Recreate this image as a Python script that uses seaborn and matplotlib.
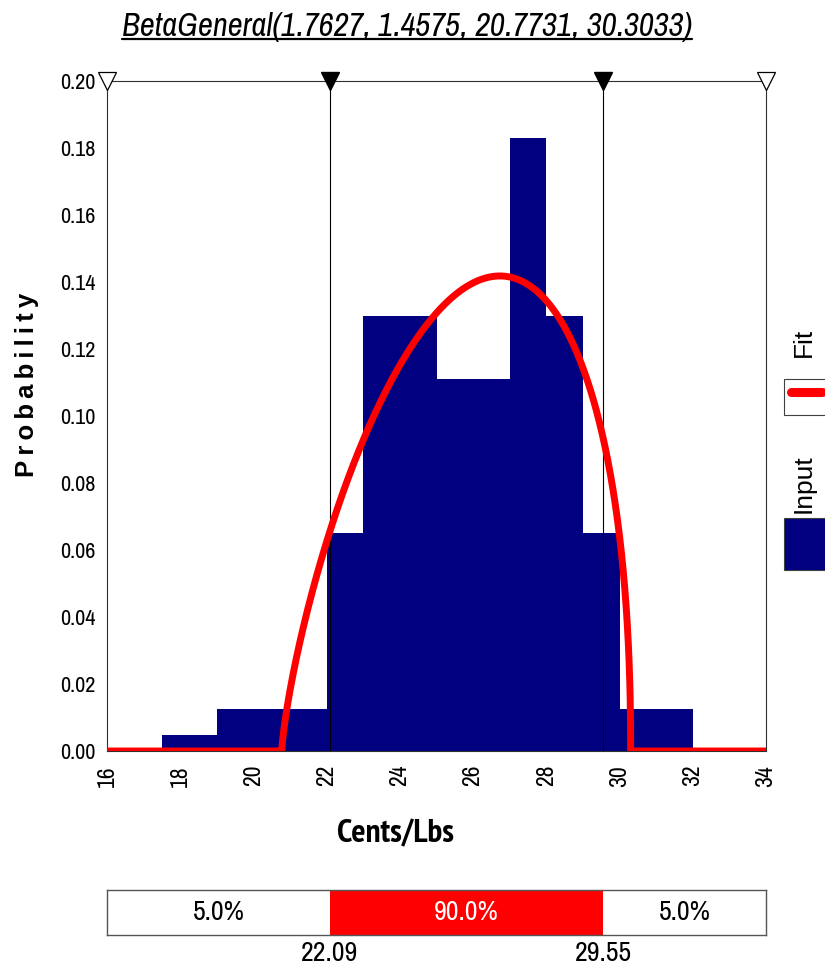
import math
import numpy as np
import pandas as pd
import matplotlib
matplotlib.use("Agg")
import matplotlib.pyplot as plt
import seaborn as sns
from matplotlib.patches import Rectangle
from matplotlib.lines import Line2D

# Input histogram: bin edges and probability density of each bin
bin_edges = [17.5, 19.0, 22.0, 23.0, 25.0, 27.0, 28.0, 29.0, 30.0, 32.0]
bin_heights = [0.0048, 0.0125, 0.065, 0.130, 0.111, 0.183, 0.130, 0.065, 0.0125]

# Fitted distribution BetaGeneral(alpha1, alpha2, min, max)
fit_alpha1 = 1.7627
fit_alpha2 = 1.4575
fit_min = 20.7731
fit_max = 30.3033

# 5% / 95% delimiters and band labels
delimiters = [22.09, 29.55]
band_labels = ["5.0%", "90.0%", "5.0%"]

x_ticks = [16, 18, 20, 22, 24, 26, 28, 30, 32, 34]
y_ticks = [0.00, 0.02, 0.04, 0.06, 0.08, 0.10, 0.12, 0.14, 0.16, 0.18, 0.20]

NAVY = "#000080"
RED = "#ff0000"
NARROW = ["Archivo Narrow", "Liberation Sans", "DejaVu Sans"]
NARROW_BOLD = ["PT Sans Narrow", "Asap Condensed", "Liberation Sans", "DejaVu Sans"]
SANS = ["Liberation Sans", "DejaVu Sans"]


def beta_general_pdf(x, a1, a2, lo, hi):
    z = (x - lo) / (hi - lo)
    out = np.zeros_like(x)
    inside = (z > 0) & (z < 1)
    log_b = math.lgamma(a1) + math.lgamma(a2) - math.lgamma(a1 + a2)
    out[inside] = np.exp((a1 - 1) * np.log(z[inside])
                         + (a2 - 1) * np.log(1 - z[inside]) - log_b) / (hi - lo)
    return out


sns.set_theme(style="white")
plt.rcParams["font.family"] = NARROW
plt.rcParams["text.color"] = "black"
plt.rcParams["xtick.color"] = "black"
plt.rcParams["ytick.color"] = "black"

W, H = 825, 973
fig = plt.figure(figsize=(W / 100, H / 100), dpi=100)

# main axes (pixel box 107..766 x 81..751)
ax = fig.add_axes([107 / W, 1 - 751 / H, 659 / W, 670 / H])

hist_df = pd.DataFrame({
    "mid": [(a + b) / 2 for a, b in zip(bin_edges[:-1], bin_edges[1:])],
    "prob": bin_heights,
})
sns.histplot(data=hist_df, x="mid", weights="prob", bins=bin_edges, stat="count",
             element="step", fill=True, color=NAVY, alpha=1, linewidth=0, ax=ax, zorder=2)

ax.vlines(delimiters, 0, 0.20, color="black", lw=0.8, zorder=3)

grid = np.sort(np.concatenate([np.linspace(16, 34, 1801), [fit_min, fit_max]]))
fit_df = pd.DataFrame({"x": grid, "pdf": beta_general_pdf(grid, fit_alpha1, fit_alpha2, fit_min, fit_max)})
sns.lineplot(data=fit_df, x="x", y="pdf", color=RED, lw=5, ax=ax, zorder=4,
             estimator=None, sort=False)

# end and delimiter triangles on the top edge
ax.plot([16, 34], [0.20, 0.20], ls="none", marker="v", ms=13, mfc="white",
        mec="black", mew=0.9, clip_on=False, zorder=6)
ax.plot(delimiters, [0.20, 0.20], ls="none", marker="v", ms=13, mfc="black",
        mec="black", clip_on=False, zorder=6)

ax.set_xlim(16, 34)
ax.set_ylim(0, 0.20)
ax.set_xticks(x_ticks)
ax.set_xticklabels([str(t) for t in x_ticks], rotation=90, fontsize=17)
ax.set_yticks(y_ticks)
ax.set_yticklabels([f"{t:.2f}" for t in y_ticks], fontsize=16)
ax.tick_params(axis="y", direction="inout", length=17, width=0.8, pad=0)
ax.tick_params(axis="x", direction="out", length=7, width=0.8, pad=3)
ax.set_xlabel("")
ax.set_ylabel("")
for s in ax.spines.values():
    s.set_color("#303030")
    s.set_linewidth(0.8)

# titles and axis labels
title = fig.text(407 / W, 1 - 27 / H, "BetaGeneral(1.7627, 1.4575, 20.7731, 30.3033)",
                 ha="center", va="center", fontsize=23.5, style="italic")
fig.text(395 / W, 1 - 834 / H, "Cents/Lbs", ha="center", va="center",
         fontsize=24, fontweight="bold", family=NARROW_BOLD)
fig.text(27 / W, 1 - 385 / H, "\u2009".join("Probability"), ha="center", va="center",
         rotation=90, fontsize=18.5, fontweight="bold", family=SANS)

# legend on the right edge
fig.text(804 / W, 1 - 342 / H, "Fit", rotation=90, ha="center", va="center",
         fontsize=19, family=SANS)
fig.patches.append(Rectangle((784 / W, 1 - 415 / H), 50 / W, 36 / H, transform=fig.transFigure,
                             facecolor="white", edgecolor="#404040", lw=0.8))
fig.lines.append(Line2D([791 / W, 822 / W], [1 - 392 / H, 1 - 392 / H], transform=fig.transFigure,
                        color=RED, lw=6.5, solid_capstyle="round"))
fig.text(804 / W, 1 - 484 / H, "Input", rotation=90, ha="center", va="center",
         fontsize=19, family=SANS)
fig.patches.append(Rectangle((784 / W, 1 - 570 / H), 50 / W, 52 / H, transform=fig.transFigure,
                             facecolor=NAVY, edgecolor="#404040", lw=0.8))

# delimiter bar at the bottom
bx = fig.add_axes([107 / W, 1 - 935 / H, 659 / W, 45 / H])
bx.set_xlim(16, 34)
bx.set_ylim(0, 1)
bx.axvspan(delimiters[0], delimiters[1], color=RED, lw=0)
centers = [(16 + delimiters[0]) / 2, sum(delimiters) / 2, (delimiters[1] + 34) / 2]
for cx, lab, col in zip(centers, band_labels, ["black", "white", "black"]):
    bx.text(cx, 0.5, lab, ha="center", va="center", fontsize=20, color=col)
bx.set_yticks([])
bx.set_xticks(delimiters)
bx.set_xticklabels([f"{d:.2f}" for d in delimiters], fontsize=20)
bx.tick_params(axis="x", length=0, pad=4)
for s in bx.spines.values():
    s.set_color("#555555")
    s.set_linewidth(1)

# underline the title
fig.canvas.draw()
bb = title.get_window_extent().transformed(fig.transFigure.inverted())
fig.lines.append(Line2D([bb.x0, bb.x1], [bb.y0 + 0.003, bb.y0 + 0.003], transform=fig.transFigure,
                        color="black", lw=1.6))

fig.savefig("out.png", dpi=100)
